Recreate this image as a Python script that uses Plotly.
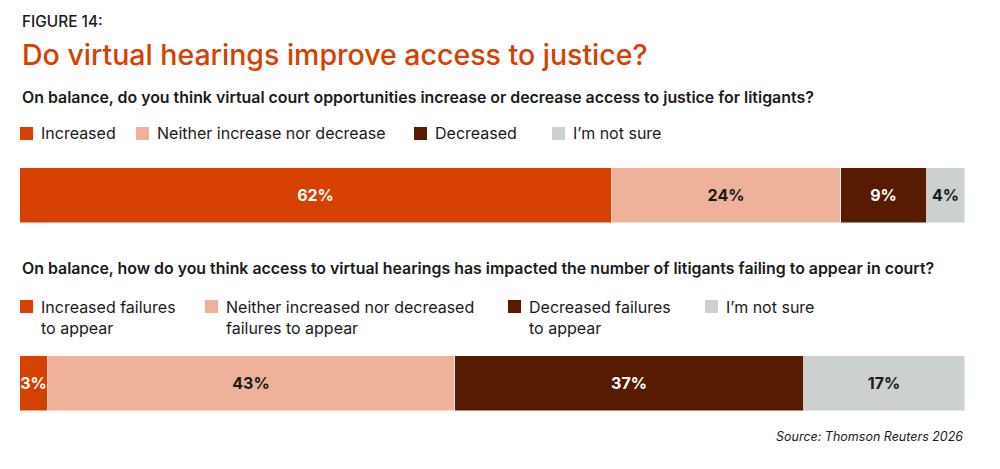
import plotly.graph_objects as go

# --- data ---
q1_labels = ["Increased", "Neither increase nor decrease", "Decreased", "I’m not sure"]
q1_values = [62, 24, 9, 4]

q2_labels = ["Increased failures<br>to appear", "Neither increased nor decreased<br>failures to appear",
             "Decreased failures<br>to appear", "I’m not sure"]
q2_values = [3, 43, 37, 17]

colors = ["#D64000", "#EEB29A", "#561B00", "#CCD1CF"]
text_colors = ["white", "#1a1a1a", "white", "#1a1a1a"]

FONT = "Inter"
W, H = 1000, 469
OFF = 8  # page body margin pushes the figure 8px right/down

LEFT, RIGHT = 20, 965  # bar extents in screen pixels


def py(page_y):
    # screen row -> paper y (margins are zero top/bottom)
    return 1 - (page_y - OFF) / H


def px_x(page_x):
    # screen column -> paper x (plot area spans LEFT..RIGHT)
    return (page_x - LEFT) / (RIGHT - LEFT)


fig = go.Figure()

for i in range(4):
    fig.add_trace(go.Bar(
        x=[q1_values[i]], y=["q1"], orientation="h",
        marker=dict(color=colors[i], line=dict(color="rgba(255,255,255,0.5)", width=1)),
        text=[f"{q1_values[i]}%"], textposition="inside", insidetextanchor="middle",
        textangle=0, constraintext="none",
        textfont=dict(family=FONT, size=16, color=text_colors[i], weight=700),
        showlegend=False, xaxis="x", yaxis="y", hoverinfo="skip",
    ))
    fig.add_trace(go.Bar(
        x=[q2_values[i]], y=["q2"], orientation="h",
        marker=dict(color=colors[i], line=dict(color="rgba(255,255,255,0.5)", width=1)),
        text=[f"{q2_values[i]}%"], textposition="inside", insidetextanchor="middle",
        textangle=0, constraintext="none",
        textfont=dict(family=FONT, size=16, color=text_colors[i], weight=700),
        showlegend=False, xaxis="x2", yaxis="y2", hoverinfo="skip",
    ))

axis_off = dict(showgrid=False, zeroline=False, showticklabels=False, visible=False)

fig.update_layout(
    width=W, height=H,
    barmode="stack", bargap=0,
    plot_bgcolor="white", paper_bgcolor="white",
    margin=dict(l=LEFT - OFF, r=W - (RIGHT - OFF), t=0, b=0),
    xaxis=dict(domain=[0, 1], range=[0, sum(q1_values)], anchor="y", **axis_off),
    yaxis=dict(domain=[py(223), py(168)], range=[-0.5, 0.5], **axis_off),
    xaxis2=dict(domain=[0, 1], range=[0, sum(q2_values)], anchor="y2", **axis_off),
    yaxis2=dict(domain=[py(411), py(356)], range=[-0.5, 0.5], **axis_off),
)

# headings
heads = [
    ("FIGURE 14:", 22, 15.4, "#1a1a1a", 500),
    ("Do virtual hearings improve access to justice?", 55, 28.5, "#D64000", 500),
    ("On balance, do you think virtual court opportunities increase or decrease access to justice for litigants?",
     97, 15.9, "#1a1a1a", 600),
    ("On balance, how do you think access to virtual hearings has impacted the number of litigants failing to appear in court?",
     268, 15.9, "#1a1a1a", 600),
]
for txt, y, size, col, wt in heads:
    fig.add_annotation(text=txt, x=0, y=py(y), xref="paper", yref="paper",
                       xanchor="left", yanchor="middle", showarrow=False,
                       font=dict(family=FONT, size=size, color=col, weight=wt))

# legends (squares + labels)
leg1_x = [20, 136, 414, 552]
leg2_x = [20, 205, 508, 705]
for i in range(4):
    fig.add_shape(type="rect", xref="paper", yref="paper",
                  x0=px_x(leg1_x[i]), x1=px_x(leg1_x[i] + 13), y0=py(140), y1=py(127),
                  fillcolor=colors[i], line=dict(width=0))
    fig.add_annotation(text=q1_labels[i], x=px_x(leg1_x[i] + 19), y=py(133),
                       xref="paper", yref="paper", xanchor="left", yanchor="middle",
                       showarrow=False, font=dict(family=FONT, size=16, color="#1a1a1a"))
    fig.add_shape(type="rect", xref="paper", yref="paper",
                  x0=px_x(leg2_x[i]), x1=px_x(leg2_x[i] + 13), y0=py(313), y1=py(300),
                  fillcolor=colors[i], line=dict(width=0))
    fig.add_annotation(text=q2_labels[i], x=px_x(leg2_x[i] + 19), y=py(295),
                       xref="paper", yref="paper", xanchor="left", yanchor="top", align="left",
                       showarrow=False, font=dict(family=FONT, size=16, color="#1a1a1a"))

fig.add_annotation(text="<i>Source: Thomson Reuters 2026</i>", x=1, y=py(436),
                   xref="paper", yref="paper", xanchor="right", yanchor="middle",
                   showarrow=False, font=dict(family=FONT, size=12.5, color="#1a1a1a"))

fig.write_html("out.html")
